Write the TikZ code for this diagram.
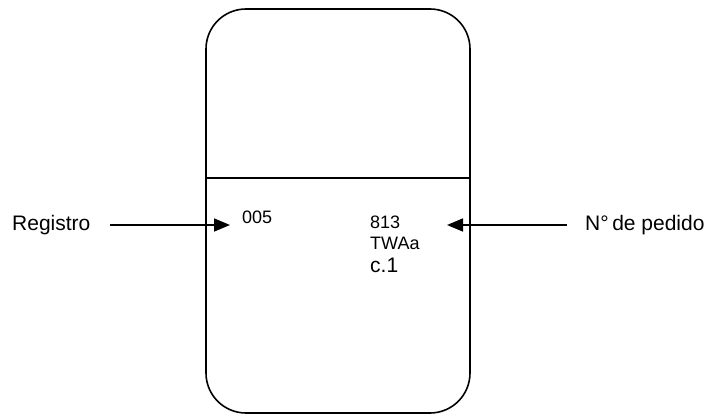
\documentclass[tikz,border=0pt]{standalone}
\usepackage{fontspec}
\setmainfont{Liberation Sans}
\usetikzlibrary{arrows.meta,positioning}

\begin{document}
\begin{tikzpicture}[
    x=1pt, y=-1pt,
    card/.style={draw, line width=1.6pt, rectangle, rounded corners=40pt, minimum width=264pt, minimum height=404pt},
    lbl/.style={inner sep=0pt, font=\fontsize{21}{25}\selectfont},
    num/.style={inner sep=0pt, font=\fontsize{18}{21}\selectfont},
    arrow/.style={-{Triangle[length=16pt,width=13pt]}, line width=1.6pt}
]
\useasboundingbox (0,0) rectangle (710,415);

% Card
\node[card] (card) at (338,211) {};
\draw[line width=1.6pt] (card.west |- 0,178) -- (card.east |- 0,178);

% Texts
\node[lbl, anchor=base west] (registro) at (12,230) {Registro};
\node[lbl, anchor=base west] (pedido) at (585,230) {N°\,de pedido};
\node[num, anchor=base west] (reg005) at (242,223) {005};
\node[num, anchor=base west] (ped813) at (370,228) {813};
\node[num, anchor=base west] (pedtwa) at (370,249) {TWAa};
\node[lbl, anchor=base west] (pedc1) at (370,272) {c.1};

% Arrows
\coordinate (regstart) at (110,225);
\coordinate (regtip) at (230,225);
\coordinate (pedstart) at (567,225);
\coordinate (pedtip) at (447,225);
\draw[arrow] (regstart) -- (regtip);
\draw[arrow] (pedstart) -- (pedtip);

\end{tikzpicture}
\end{document}
